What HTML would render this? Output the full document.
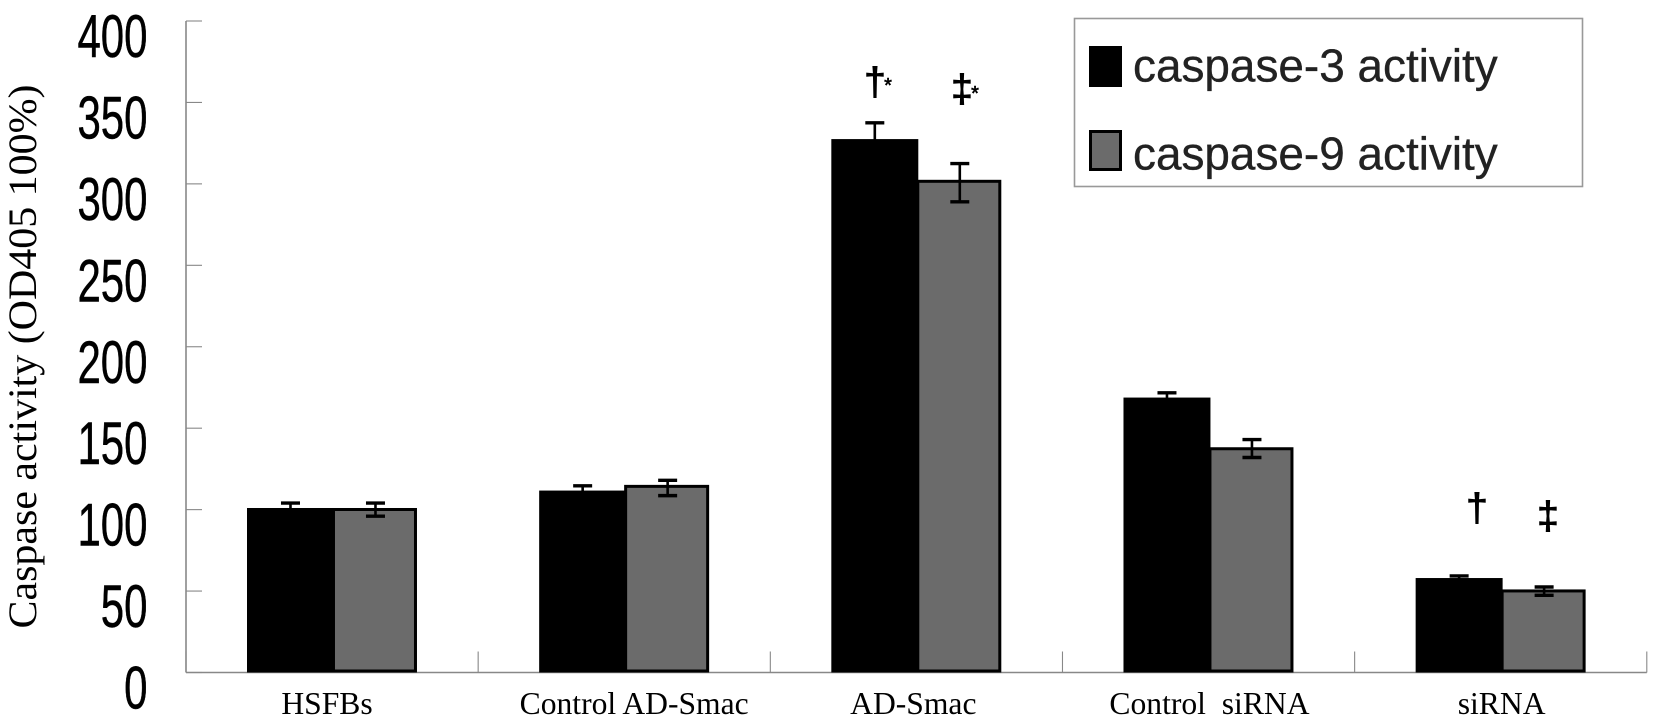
<!DOCTYPE html>
<html lang="en">
<head>
<meta charset="utf-8">
<title>Caspase activity</title>
<style>
html,body{margin:0;padding:0;background:#fff;width:1654px;height:720px;overflow:hidden}
svg{display:block}
</style>
</head>
<body>
<svg id="chart" xmlns="http://www.w3.org/2000/svg" width="1654" height="720" viewBox="0 0 1654 720">
<rect x="1074.5" y="18.5" width="508" height="168" fill="#fff" stroke="#999" stroke-width="1.6"/>
<rect x="1089" y="46" width="33" height="41" fill="#000"/>
<rect x="1090.5" y="131.5" width="30" height="38" fill="#6b6b6b" stroke="#000" stroke-width="3"/>
<text x="1133" y="81.5" font-family="'Liberation Sans',sans-serif" font-size="45.9" fill="#222" stroke="#222" stroke-width="0.35">caspase-3 activity</text>
<text x="1133" y="169.5" font-family="'Liberation Sans',sans-serif" font-size="45.9" fill="#222" stroke="#222" stroke-width="0.35">caspase-9 activity</text>
<text transform="translate(36,356.5) rotate(-90)" text-anchor="middle" font-family="'Liberation Serif',serif" font-size="40" fill="#000" textLength="544" lengthAdjust="spacingAndGlyphs">Caspase activity (OD405 100%)</text>
<g font-family="'Liberation Sans',sans-serif" fill="#000" stroke="#000">
<text x="875" y="95" text-anchor="middle" font-size="39" stroke-width="1">†</text>
<text x="888" y="92" text-anchor="middle" font-size="20" stroke-width="0.6">*</text>
<text x="962" y="102" text-anchor="middle" font-size="39" stroke-width="1">‡</text>
<text x="975" y="100" text-anchor="middle" font-size="20" stroke-width="0.6">*</text>
<text x="1477" y="521" text-anchor="middle" font-size="39" stroke-width="1">†</text>
<text x="1548" y="529" text-anchor="middle" font-size="39" stroke-width="1">‡</text>
</g>
</svg>
<script>
const categories = ['HSFBs', 'Control AD-Smac', 'AD-Smac', 'Control  siRNA', 'siRNA'];
const caspase3 = [101, 111.7, 327.5, 168.8, 58];
const caspase9 = [101, 115.2, 302.5, 138.3, 51];
const caspase3Upper = [104, 114.6, 337.5, 171.7, 59.3];
const caspase3Lower = [98, 108.8, 317.5, 165.9, 56.7];
const caspase9Upper = [104, 118, 312.5, 143, 52.5];
const caspase9Lower = [96, 108.6, 289, 132, 47.4];
const yTicks = [0, 50, 100, 150, 200, 250, 300, 350, 400];

const svg = document.getElementById('chart');
const NS = 'http://www.w3.org/2000/svg';
const plotLeft = 186, plotRight = 1646.8, plotBottom = 672.5, plotTop = 21;
const yMax = 400;
const axisColor = '#888';

function yScale(v) {
  return plotBottom - (v / yMax) * (plotBottom - plotTop);
}
function bandWidth() {
  return (plotRight - plotLeft) / categories.length;
}
function bandStart(i) {
  return plotLeft + i * bandWidth();
}
function barStart(i) {
  return bandStart(i) + 0.2088 * bandWidth();
}
function barMid(i) {
  return barStart(i) + 0.2977 * bandWidth();
}
function barEnd(i) {
  return barStart(i) + 0.5818 * bandWidth();
}
function make(tag, attrs, text) {
  const el = document.createElementNS(NS, tag);
  for (const k in attrs) el.setAttribute(k, attrs[k]);
  if (text !== undefined) el.textContent = text;
  svg.appendChild(el);
  return el;
}

/* axes */
const yAxisLine = make('line', {x1: plotLeft, x2: plotLeft, y1: plotTop, y2: plotBottom, stroke: axisColor, 'stroke-width': 1.6});


const xAxisLine = make('line', {x1: plotLeft, x2: plotRight, y1: plotBottom, y2: plotBottom, stroke: axisColor, 'stroke-width': 1.4});



yTicks.forEach(function (t) {
  const y = yScale(t);
  const tick = make('line', {x1: plotLeft, x2: plotLeft + 16, y1: y, y2: y, stroke: axisColor, 'stroke-width': 1.1});
  
  
  const label = make('text', {
    transform: 'translate(147.5,' + (y + 36) + ') scale(0.7,1)',
    'text-anchor': 'end',
    'font-family': "'Liberation Sans',sans-serif",
    'font-size': 60,
    fill: '#000',
    stroke: '#000',
    'stroke-width': 0.5
  }, String(t));
  
  
});

for (let i = 0; i <= categories.length; i++) {
  const x = bandStart(i);
  const tick = make('line', {x1: x, x2: x, y1: plotBottom - 21, y2: plotBottom, stroke: axisColor, 'stroke-width': 1.1});
  
  
}

/* bars and error bars */
function errorBar(x, v, hi, lo, name) {
  const stem = make('line', {x1: x, x2: x, y1: yScale(hi), y2: yScale(lo), stroke: '#000', 'stroke-width': 2.6});
  
  
  const capHi = make('line', {x1: x - 9.5, x2: x + 9.5, y1: yScale(hi), y2: yScale(hi), stroke: '#000', 'stroke-width': 3.4});
  
  
  const capLo = make('line', {x1: x - 9.5, x2: x + 9.5, y1: yScale(lo), y2: yScale(lo), stroke: '#000', 'stroke-width': 3.4});
  
  
}

categories.forEach(function (c, i) {
  const slug = c.toLowerCase().replace(/\s+/g, '-');
  const x0 = barStart(i), x1 = barMid(i), x2 = barEnd(i);

  const y3 = yScale(caspase3[i]);
  const bar3 = make('rect', {x: x0, y: y3, width: x1 - x0, height: plotBottom - y3, fill: '#000'});
  
  

  const y9 = yScale(caspase9[i]);
  const bar9 = make('rect', {x: x1 - 0.5, y: y9 + 1.5, width: x2 - x1 - 1, height: plotBottom - y9 - 3, fill: '#6b6b6b', stroke: '#000', 'stroke-width': 3});
  
  

  errorBar((x0 + x1) / 2, caspase3[i], caspase3Upper[i], caspase3Lower[i], 'caspase-3-' + slug);
  errorBar((x1 + x2) / 2, caspase9[i], caspase9Upper[i], caspase9Lower[i], 'caspase-9-' + slug);
});

/* category labels */
const labelNudge = [-5, 10, -3, 1, 1];
categories.forEach(function (c, i) {
  const cx = (barStart(i) + barEnd(i)) / 2 + labelNudge[i];
  const label = make('text', {
    x: cx,
    y: 714,
    'text-anchor': 'middle',
    'font-family': "'Liberation Serif',serif",
    'font-size': 31.6,
    fill: '#000'
  }, c);
  label.setAttribute('style', 'white-space:pre');
  
  
});
</script>
</body>
</html>
